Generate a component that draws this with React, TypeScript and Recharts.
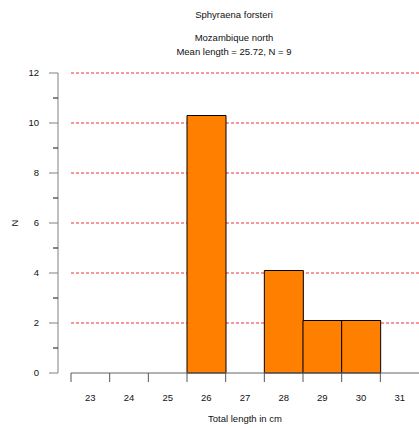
import React from 'react';
import { BarChart, Bar, XAxis, YAxis, CartesianGrid } from 'recharts';

const categories = ['23', '24', '25', '26', '27', '28', '29', '30', '31'];
const counts: (number | null)[] = [null, null, null, 10.3, null, 4.1, 2.1, 2.1, null];
const yTicks = [0, 1, 2, 3, 4, 5, 6, 7, 8, 9, 10, 11, 12];
const yLabelTicks = [0, 2, 4, 6, 8, 10, 12];
const gridValues = [2, 4, 6, 8, 10, 12];
const title = 'Sphyraena forsteri';
const subtitle = 'Mozambique north';
const stats = 'Mean length = 25.72, N = 9';
const xTitle = 'Total length in cm';
const yTitle = 'N';

const data = categories.map((c, i) => ({ bin: c, n: counts[i] }));

const FONT = '"Liberation Sans", Arial, sans-serif';
const FS = 9.5;
const Y_TICK_SIZE = 9;
const Y_TICK_MARGIN = 10;
const X_TICK_SIZE = 9;
const X_TICK_MARGIN = 8;

const YTick = (props: any) => {
  const { x, y, payload } = props;
  const axisX = x + Y_TICK_MARGIN + Y_TICK_SIZE;
  const major = yLabelTicks.includes(payload.value);
  return (
    <g>
      <line
        x1={axisX - (major ? 9 : 5)}
        x2={axisX}
        y1={y}
        y2={y}
        stroke={major ? '#808080' : '#111'}
        strokeWidth={1}
      />
      {major && (
        <text x={x} y={y} dy="0.35em" textAnchor="end" fontFamily={FONT} fontSize={FS} fill="#111">
          {payload.value}
        </text>
      )}
    </g>
  );
};

const XTick = (props: any) => {
  const { x, y, payload } = props;
  const half = payload.offset ?? 0;
  const axisY = y - X_TICK_SIZE - X_TICK_MARGIN;
  return (
    <g>
      <line x1={x - half} x2={x - half} y1={axisY} y2={axisY + X_TICK_SIZE} stroke="#555" strokeWidth={1} />
      <text x={x} y={y + 10.5} textAnchor="middle" fontFamily={FONT} fontSize={FS} fill="#111">
        {payload.value}
      </text>
    </g>
  );
};

const YLabel = (props: any) => {
  const vb = props.viewBox || { x: 0, y: 0, width: 0, height: 0 };
  const cx = vb.x + 14;
  const cy = vb.y + vb.height / 2;
  return (
    <text
      x={cx}
      y={cy}
      transform={`rotate(-90, ${cx}, ${cy})`}
      textAnchor="middle"
      dominantBaseline="central"
      fontFamily={FONT}
      fontSize={FS}
      fill="#111"
    >
      {yTitle}
    </text>
  );
};

const titleStyle: React.CSSProperties = {
  position: 'absolute',
  left: 134,
  width: 200,
  textAlign: 'center',
  fontFamily: FONT,
  fontSize: FS,
  color: '#111',
  lineHeight: '12px',
  whiteSpace: 'nowrap',
};

export default function App() {
  return (
    <div style={{ position: 'absolute', left: 0, top: 0, width: 419, height: 428, background: '#fff' }}>
      <BarChart
        width={419}
        height={428}
        data={data}
        margin={{ top: 73, right: 0, bottom: 0, left: 0 }}
        barCategoryGap={0}
      >
        <CartesianGrid
          yAxisId="y"
          horizontal
          vertical={false}
          horizontalValues={gridValues}
          stroke="#f03030"
          strokeDasharray="3 2"
        />
        <XAxis
          dataKey="bin"
          interval={0}
          height={55}
          tickSize={X_TICK_SIZE}
          tickMargin={X_TICK_MARGIN}
          tickLine={false}
          axisLine={{ stroke: '#666' }}
          tick={<XTick />}
          label={{ value: xTitle, position: 'insideBottom', offset: 6, fontFamily: FONT, fontSize: FS, fill: '#111' }}
        />
        <YAxis
          yAxisId="gap"
          width={13}
          axisLine={false}
          tickLine={false}
          tick={false}
        />
        <YAxis
          yAxisId="y"
          width={58}
          domain={[0, 12]}
          ticks={yTicks}
          interval={0}
          tickSize={Y_TICK_SIZE}
          tickMargin={Y_TICK_MARGIN}
          tickLine={false}
          axisLine={{ stroke: '#808080' }}
          tick={<YTick />}
          label={<YLabel />}
        />
        <Bar
          yAxisId="y"
          dataKey="n"
          fill="#ff8000"
          stroke="#000"
          strokeWidth={1}
          isAnimationActive={false}
        />
      </BarChart>
      <div style={{ ...titleStyle, top: 9 }}>{title}</div>
      <div style={{ ...titleStyle, top: 32 }}>{subtitle}</div>
      <div style={{ ...titleStyle, top: 46 }}>{stats}</div>
    </div>
  );
}
